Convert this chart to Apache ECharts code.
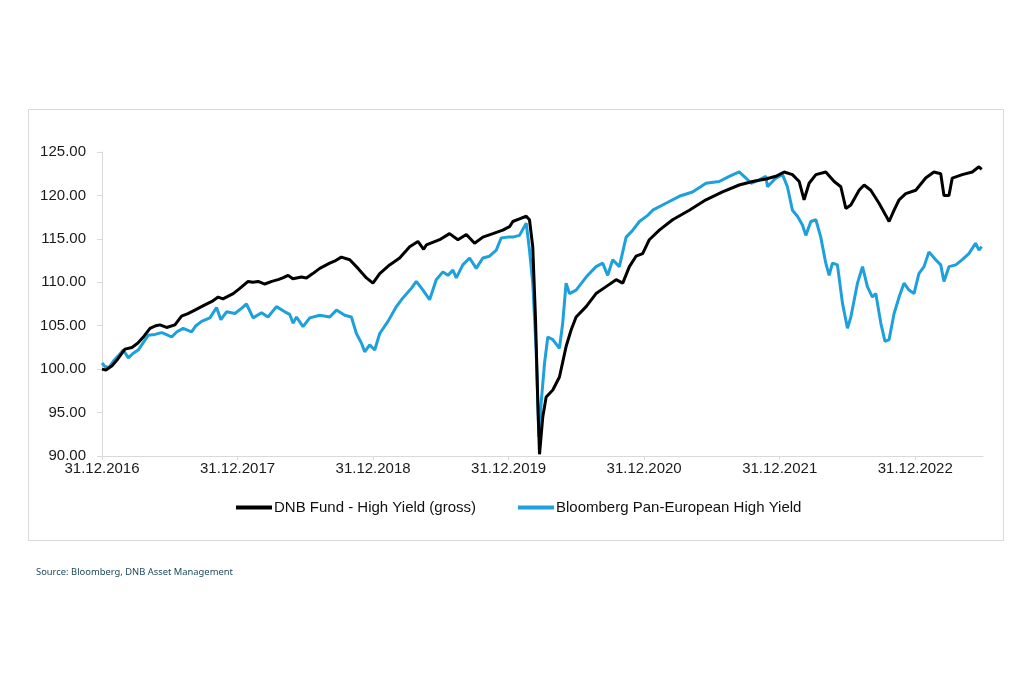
<!DOCTYPE html>
<html>
<head>
<meta charset="utf-8">
<script src="https://cdn.jsdelivr.net/npm/echarts@6/dist/echarts.min.js"></script>
<style>html,body{margin:0;padding:0;background:#fff;}#c{width:1024px;height:683px;}</style>
</head>
<body>
<div id="c"></div>
<script>
// Time in years since 31.12.2016
const yearLabels = ['31.12.2016','31.12.2017','31.12.2018','31.12.2019','31.12.2020','31.12.2021','31.12.2022'];
const seriesNames = ['DNB Fund - High Yield (gross)', 'Bloomberg Pan-European High Yield'];

const dnbT = [0.000,0.029,0.074,0.118,0.169,0.221,0.265,0.310,0.354,0.398,0.427,0.477,0.538,0.587,0.634,0.685,0.759,0.811,0.857,0.892,0.968,1.017,1.078,1.113,1.152,1.201,1.253,1.299,1.334,1.373,1.408,1.472,1.508,1.555,1.607,1.680,1.724,1.766,1.828,1.889,1.951,1.999,2.049,2.122,2.196,2.270,2.331,2.373,2.393,2.491,2.564,2.626,2.688,2.749,2.810,2.884,2.957,3.007,3.031,3.080,3.130,3.154,3.178,3.198,3.215,3.228,3.252,3.277,3.326,3.375,3.424,3.461,3.498,3.572,3.645,3.719,3.793,3.842,3.891,3.940,3.989,4.038,4.112,4.210,4.333,4.456,4.578,4.701,4.799,4.898,4.972,5.033,5.094,5.144,5.180,5.217,5.267,5.340,5.402,5.451,5.488,5.525,5.586,5.623,5.672,5.733,5.783,5.807,5.844,5.881,5.930,6.004,6.077,6.138,6.188,6.212,6.249,6.273,6.347,6.421,6.470,6.490];
const dnbV = [100.0,99.9,100.4,101.2,102.3,102.5,103.0,103.8,104.7,105.0,105.1,104.8,105.1,106.1,106.4,106.8,107.4,107.8,108.3,108.1,108.7,109.3,110.1,110.0,110.1,109.8,110.1,110.3,110.5,110.8,110.4,110.6,110.5,111.0,111.6,112.2,112.5,112.9,112.6,111.6,110.5,109.9,111.0,112.0,112.8,114.1,114.7,113.8,114.3,114.9,115.6,114.9,115.5,114.5,115.2,115.6,116.0,116.4,117.0,117.3,117.6,117.2,114.1,106.0,96.4,90.2,94.5,96.8,97.6,99.1,102.6,104.5,106.0,107.2,108.7,109.5,110.3,109.9,111.8,113.0,113.3,114.9,116.0,117.2,118.3,119.5,120.4,121.2,121.6,121.9,122.2,122.7,122.4,121.6,119.5,121.4,122.4,122.7,121.6,121.0,118.5,118.9,120.6,121.2,120.6,119.1,117.7,117.0,118.3,119.5,120.2,120.6,122.0,122.7,122.5,120.0,120.0,122.0,122.4,122.7,123.3,123.0];

const bbgT = [0.000,0.022,0.052,0.083,0.118,0.157,0.194,0.228,0.267,0.302,0.341,0.391,0.440,0.472,0.514,0.553,0.599,0.661,0.693,0.735,0.796,0.845,0.877,0.919,0.980,1.029,1.066,1.115,1.177,1.225,1.287,1.349,1.385,1.410,1.435,1.483,1.533,1.607,1.680,1.730,1.791,1.840,1.877,1.914,1.938,1.975,2.012,2.049,2.110,2.172,2.220,2.282,2.319,2.368,2.417,2.466,2.515,2.552,2.589,2.614,2.662,2.712,2.761,2.810,2.859,2.909,2.945,2.994,3.031,3.080,3.130,3.154,3.178,3.203,3.223,3.240,3.265,3.289,3.326,3.375,3.399,3.424,3.449,3.498,3.572,3.645,3.694,3.731,3.768,3.817,3.867,3.916,3.965,4.026,4.063,4.161,4.259,4.357,4.456,4.554,4.628,4.701,4.751,4.788,4.849,4.898,4.910,4.972,5.021,5.057,5.094,5.131,5.168,5.193,5.230,5.267,5.303,5.340,5.365,5.389,5.426,5.463,5.500,5.525,5.574,5.611,5.647,5.684,5.709,5.746,5.777,5.807,5.844,5.881,5.917,5.954,5.991,6.027,6.065,6.101,6.151,6.188,6.212,6.249,6.299,6.347,6.396,6.445,6.470,6.490];
const bbgV = [100.7,100.3,100.2,100.9,101.5,102.2,101.3,101.8,102.2,103.0,103.9,104.0,104.2,104.0,103.7,104.3,104.7,104.3,105.0,105.5,105.9,107.1,105.7,106.6,106.4,107.0,107.5,105.9,106.5,106.0,107.2,106.6,106.3,105.3,106.0,104.9,105.9,106.2,106.0,106.8,106.2,106.0,104.1,103.0,102.0,102.8,102.2,104.1,105.5,107.2,108.2,109.3,110.1,109.1,108.0,110.3,111.2,110.8,111.4,110.5,112.0,112.8,111.6,112.8,113.0,113.7,115.1,115.2,115.2,115.4,116.8,113.7,109.9,102.2,92.2,96.1,100.7,103.7,103.4,102.4,105.3,109.9,108.7,109.1,110.6,111.8,112.2,110.8,112.6,111.8,115.2,116.0,117.0,117.7,118.3,119.1,119.9,120.4,121.4,121.6,122.2,122.7,122.0,121.4,121.8,122.2,121.0,122.0,122.4,121.0,118.3,117.6,116.6,115.4,117.0,117.2,115.2,112.2,110.8,112.2,112.0,107.6,104.7,106.0,109.9,111.8,109.5,108.3,108.7,105.3,103.2,103.4,106.4,108.3,109.9,109.1,108.7,111.0,111.8,113.5,112.6,112.0,110.1,111.8,112.0,112.6,113.3,114.5,113.7,114.1];

const yTicks = [90, 95, 100, 105, 110, 115, 120, 125];

const dnbData = dnbT.map((t, i) => [t, dnbV[i]]);
const bbgData = bbgT.map((t, i) => [t, bbgV[i]]);

const chart = echarts.init(document.getElementById('c'), null, {renderer: 'canvas'});
const font = 'Liberation Sans, Arial, sans-serif';
chart.setOption({
  backgroundColor: '#ffffff',
  animation: false,
  graphic: [
    {type: 'rect', shape: {x: 28.5, y: 109.5, width: 975, height: 431}, style: {fill: 'none', stroke: '#d9d9d9', lineWidth: 1}, z: 0},
    {type: 'text', left: 36, top: 568, style: {text: 'Source: Bloomberg, DNB Asset Management', fill: '#1d4a5a', font: '9.4px "Noto Sans", sans-serif'}}
  ],
  grid: {left: 102, right: 41, top: 152, bottom: 227, containLabel: false},
  legend: {
    top: 495, left: 231,
    icon: 'rect', itemWidth: 36, itemHeight: 4, itemGap: 42,
    textStyle: {fontFamily: font, fontSize: 15, color: '#111', padding: [0,0,0,-3]},
    data: seriesNames
  },
  xAxis: {
    type: 'value', min: 0, max: 6.5, interval: 1,
    axisLine: {lineStyle: {color: '#d9d9d9', width: 1}},
    axisTick: {show: true, length: 4, lineStyle: {color: '#d9d9d9'}},
    splitLine: {show: false},
    axisLabel: {
      fontFamily: font, fontSize: 15, color: '#1a1a1a', margin: 5,
      showMaxLabel: false,
      formatter: v => yearLabels[Math.round(v)] || ''
    }
  },
  yAxis: {
    type: 'value', min: yTicks[0], max: yTicks[yTicks.length - 1], interval: 5,
    axisLine: {show: true, lineStyle: {color: '#d9d9d9', width: 1}},
    axisTick: {show: true, length: 5, lineStyle: {color: '#d9d9d9'}},
    splitLine: {show: false},
    axisLabel: {fontFamily: font, fontSize: 15, color: '#1a1a1a', margin: 16, formatter: v => v.toFixed(2)}
  },
  series: [
    {name: seriesNames[0], type: 'line', data: dnbData, showSymbol: false, z: 3,
     lineStyle: {color: '#000000', width: 3}, itemStyle: {color: '#000000'}},
    {name: seriesNames[1], type: 'line', data: bbgData, showSymbol: false, z: 2,
     lineStyle: {color: '#1ea0dc', width: 3}, itemStyle: {color: '#1ea0dc'}}
  ]
});
</script>
</body>
</html>
